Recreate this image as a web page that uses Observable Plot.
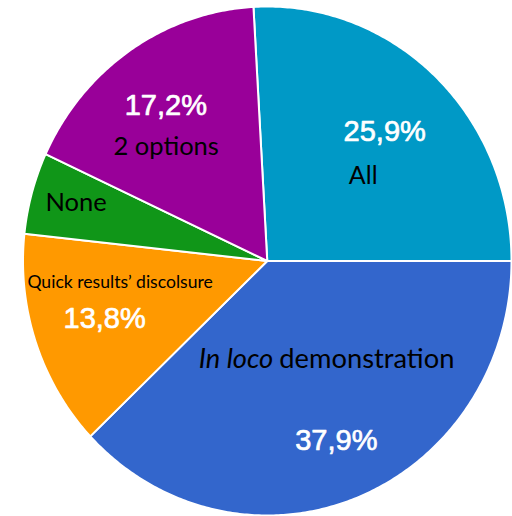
<!DOCTYPE html>
<html><head><meta charset="utf-8">
<script src="https://cdn.jsdelivr.net/npm/d3@7"></script>
<script src="https://cdn.jsdelivr.net/npm/@observablehq/plot@0.6"></script>
<style>html,body{margin:0;padding:0;background:#fff;overflow:hidden}</style>
</head><body><div id="chart"></div>
<script>
// ---- data ----
const categories = ["All", "In loco demonstration", "Quick results’ discolsure", "None", "2 options"];
const values = [25.9, 37.9, 13.8, 5.2, 17.2];
const percentLabels = ["25,9%", "37,9%", "13,8%", "", "17,2%"];
const colors = ["#0099c6", "#3366cc", "#ff9900", "#109618", "#990099"];

// ---- layout (label placement relative to slice mid-angle) ----
const pctR = [0.70, 0.762, 0.703, null, 0.739];
const nameR = [0.516, 0.387, 0.608, 0.815, 0.61];
const nameDA = [6.2, 16.3, 10.9, 0.7, -8.5]; // degrees
const nameSize = [25, 27.3, 17.6, 25.5, 25.5];
const italicWords = 2; // "In loco" italic in category 1

const total = d3.sum(values);
const start = Math.PI / 2 - values[0] / total * 2 * Math.PI;
const arcs = d3.pie().sort(null).value(d => d).startAngle(start).endAngle(start + 2 * Math.PI)(values);

const pts = [];
arcs.forEach((a, i) => {
  const n = Math.max(4, Math.ceil((a.endAngle - a.startAngle) / 0.01));
  pts.push({cat: categories[i], x: 0, y: 0});
  for (let k = 0; k <= n; k++) {
    const t = a.startAngle + (a.endAngle - a.startAngle) * k / n;
    pts.push({cat: categories[i], x: Math.sin(t), y: Math.cos(t)});
  }
  pts.push({cat: categories[i], x: 0, y: 0});
});

const mid = a => (a.startAngle + a.endAngle) / 2;
const pctRows = arcs.map((a, i) => ({i, t: percentLabels[i], r: pctR[i], ang: mid(a)}))
  .filter(d => d.t)
  .map(d => ({text: d.t, x: d.r * Math.sin(d.ang), y: d.r * Math.cos(d.ang)}));

const nameRows = arcs.map((a, i) => {
  const ang = mid(a) + nameDA[i] * Math.PI / 180;
  return {i, text: categories[i], size: nameSize[i], x: nameR[i] * Math.sin(ang), y: nameR[i] * Math.cos(ang)};
});
const plainRows = nameRows.filter(d => d.i !== 1);
const splitRow = nameRows[1];
const words = splitRow.text.split(" ");
const italicRow = {...splitRow, text: words.slice(0, italicWords).join(" ")};
const restRow = {...splitRow, text: words.slice(italicWords).join(" ")};

const nameFont = "Lato, 'Noto Sans', sans-serif";

const chart = Plot.plot({
  width: 512, height: 516,
  marginLeft: 22.5, marginRight: 1, marginTop: 6, marginBottom: 1,
  x: {domain: [-1, 1], axis: null},
  y: {domain: [-1, 1], axis: null},
  color: {domain: categories, range: colors},
  style: {background: "#fff", overflow: "visible"},
  marks: [
    Plot.line(pts, {x: "x", y: "y", z: "cat", fill: "cat", stroke: "#fff", strokeWidth: 2, strokeLinejoin: "round", curve: "linear"}),
    Plot.text(pctRows, {x: "x", y: "y", text: "text", fill: "#fff", stroke: "#fff", strokeWidth: 0.7, fontSize: 29, fontFamily: "'Liberation Sans', Arial, sans-serif"}),
    Plot.text(plainRows, {x: "x", y: "y", text: "text", fill: "#000", fontSize: "size", fontFamily: nameFont}),
    Plot.text([italicRow], {x: "x", y: "y", text: "text", fill: "#000", fontSize: splitRow.size, fontStyle: "italic", textAnchor: "end", dx: -3, fontFamily: nameFont}),
    Plot.text([restRow], {x: "x", y: "y", text: "text", fill: "#000", fontSize: splitRow.size, textAnchor: "start", dx: 3, fontFamily: nameFont})
  ]
});
document.getElementById("chart").appendChild(chart);
</script>
</body></html>
